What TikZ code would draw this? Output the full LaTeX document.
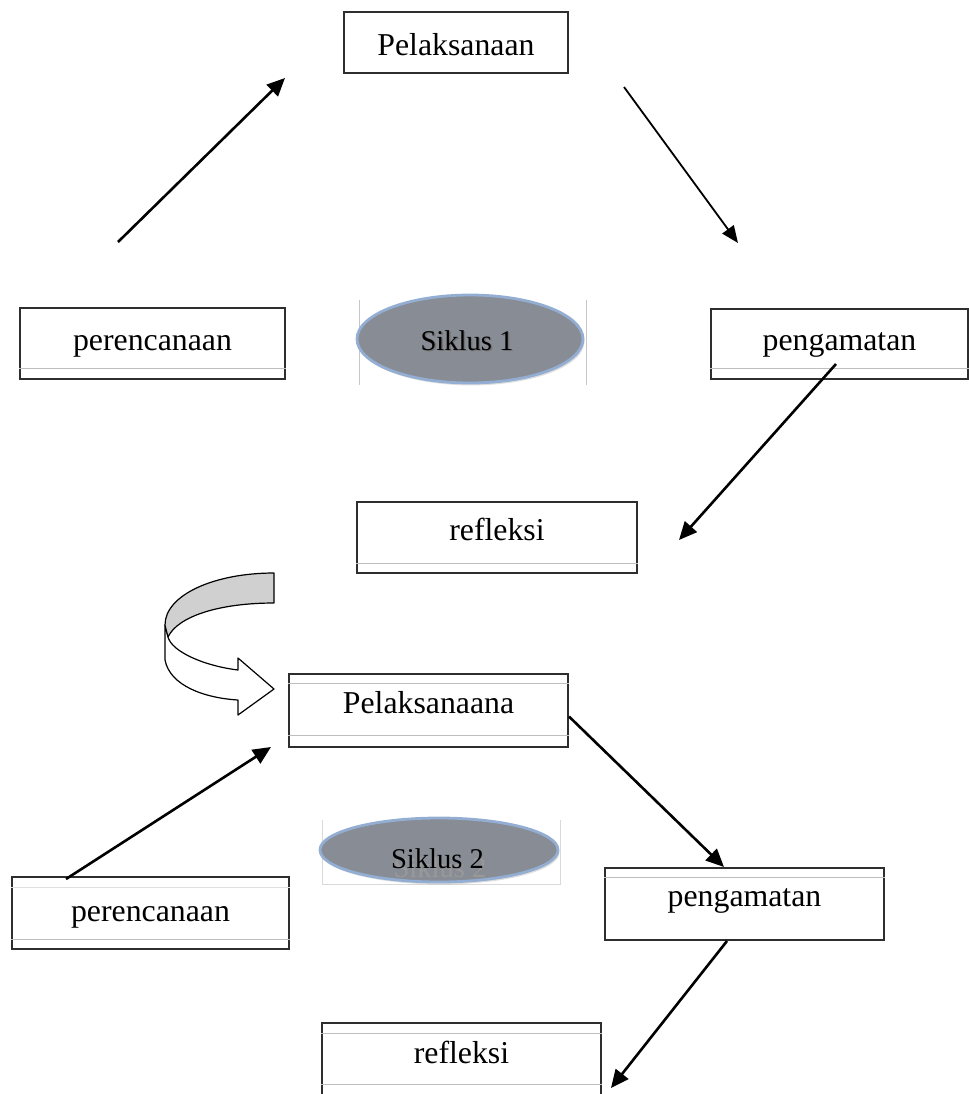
\documentclass[tikz,border=0pt]{standalone}
\usepackage{fontspec}
\setmainfont{Liberation Serif}
\usetikzlibrary{arrows.meta,shapes.geometric,shadows}
\definecolor{boxline}{HTML}{2E2E2E}
\definecolor{ruleline}{HTML}{BEBEBE}
\definecolor{siklusfill}{HTML}{878C95}
\definecolor{siklusedge}{HTML}{93AED2}
\definecolor{bandgray}{HTML}{D0D0D0}
\tikzset{
  box/.style={
    draw = boxline,
    line width = 1pt,
    shape = rectangle,
    inner sep = 0pt,
    text depth = 0pt,
    font = \fontsize{15.9pt}{19pt}\selectfont
  },
  txtbase/.style={
    text height = #1
  },
  rule/.style={
    draw = ruleline,
    line width = 0.5pt
  },
  siklus/.style={
    shape = ellipse,
    draw = siklusedge,
    line width = 1.4pt,
    fill = siklusfill,
    inner sep = 0pt,
    drop shadow = {shadow xshift=0.8pt, shadow yshift=-1.2pt, opacity=0.25}
  },
  sikluslabel/.style={
    anchor = base,
    inner sep = 0pt,
    font = \fontsize{14.3pt}{17pt}\selectfont
  },
  frame/.style={
    draw = gray!45,
    line width = 0.4pt
  },
  flow/.style={
    line width = 1.3pt,
    -{Triangle[length=9pt,width=8pt]}
  },
  flowthin/.style={
    line width = 0.9pt,
    -{Triangle[length=8.5pt,width=7pt]}
  },
  turn/.style={
    draw = black,
    line width = 0.6pt,
    line join = round
  }
}

\begin{document}
\begin{tikzpicture}[x=0.5pt,y=-0.5pt]
\useasboundingbox (0,0) rectangle (969,1094);
\clip (0,0) rectangle (969,1094);

% siklus 1
\node[box, minimum width=112pt, minimum height=30.5pt, txtbase=12.5pt] (pel1) at (456,42.5) {Pelaksanaan};
\node[box, minimum width=132.5pt, minimum height=35.5pt, txtbase=7.2pt] (ren1) at (152.5,343.5) {perencanaan};
\node[box, minimum width=128.5pt, minimum height=35pt, txtbase=6pt] (amat1) at (839.5,344) {pengamatan};
\node[box, minimum width=140pt, minimum height=35.5pt, txtbase=2.5pt] (ref1) at (497,537.5) {refleksi};

\draw[rule] ([yshift=6pt]ren1.south west) -- ([yshift=6pt]ren1.south east);
\draw[rule] ([yshift=6pt]amat1.south west) -- ([yshift=6pt]amat1.south east);
\draw[rule] ([yshift=5.5pt]ref1.south west) -- ([yshift=5.5pt]ref1.south east);

\draw[frame] (359,300) -- (359,385);
\draw[frame] (586,300) -- (586,385);
\node[siklus, minimum width=113pt, minimum height=44pt] (s1) at (470,339) {};
\node[sikluslabel, text=black!55] (s1shade) at (468.5,351.5) {Siklus 1};
\node[sikluslabel] (s1text) at (467,350) {Siklus 1};

\coordinate (a1s) at (118,242);
\coordinate (a1e) at (285,78);
\coordinate (a2s) at (624,87);
\coordinate (a2e) at (738,243);
\coordinate (a3s) at (836,364);
\coordinate (a3e) at (679,540);
\draw[flow] (a1s) -- (a1e);
\draw[flowthin] (a2s) -- (a2e);
\draw[flow] (a3s) -- (a3e);

% panah lengkung
\draw[turn, fill=white] (165,625) -- (165,660) .. controls (170,686) and (205,698) .. (238,700)
  -- (238,715) -- (274,689) -- (238,658) -- (238,670)
  .. controls (205,666) and (172,652) .. (168,637) -- cycle;
\draw[turn, fill=bandgray] (274,573) .. controls (214,573) and (165,595) .. (165,625)
  -- (168,637) .. controls (178,616) and (220,603) .. (274,603) -- cycle;

% siklus 2
\node[box, minimum width=139.5pt, minimum height=36.5pt, txtbase=2.8pt] (pel2) at (428.5,710.5) {Pelaksanaana};
\node[box, minimum width=138.5pt, minimum height=36pt, txtbase=8.7pt] (ren2) at (150.5,913) {perencanaan};
\node[box, minimum width=139.5pt, minimum height=36pt, txtbase=2.7pt] (amat2) at (744.5,904) {pengamatan};
\node[box, minimum width=139.5pt, minimum height=40pt, txtbase=0pt] (ref2) at (461.5,1063) {refleksi};

\draw[rule] ([yshift=-5pt]pel2.north west) -- ([yshift=-5pt]pel2.north east);
\draw[rule] ([yshift=6.5pt]pel2.south west) -- ([yshift=6.5pt]pel2.south east);
\draw[rule, draw=ruleline!50] ([yshift=-5.5pt]ren2.north west) -- ([yshift=-5.5pt]ren2.north east);
\draw[rule] ([yshift=5.5pt]ren2.south west) -- ([yshift=5.5pt]ren2.south east);
\draw[rule] ([yshift=-5pt]amat2.north west) -- ([yshift=-5pt]amat2.north east);
\draw[rule] ([yshift=-5.5pt]ref2.north west) -- ([yshift=-5.5pt]ref2.north east);
\draw[rule] ([yshift=-31pt]ref2.north west) -- ([yshift=-31pt]ref2.north east);

\draw[frame, draw=gray!30] (322,820) -- (322,884) -- (560,884) -- (560,820);
\node[siklus, minimum width=119pt, minimum height=32pt] (s2) at (439,850) {};
\node[sikluslabel, text=black!40] (s2shade) at (440,877) {Siklus 2};
\node[sikluslabel] (s2text) at (437.5,868) {Siklus 2};

\coordinate (a4s) at (66,879);
\coordinate (a4e) at (271,747);
\coordinate (a5e) at (724,867);
\coordinate (a6s) at (727,941);
\coordinate (a6e) at (611,1088);
\draw[flow] (a4s) -- (a4e);
\draw[flow] ([yshift=-3pt]pel2.east) -- (a5e);
\draw[flow] (a6s) -- (a6e);
\end{tikzpicture}
\end{document}
